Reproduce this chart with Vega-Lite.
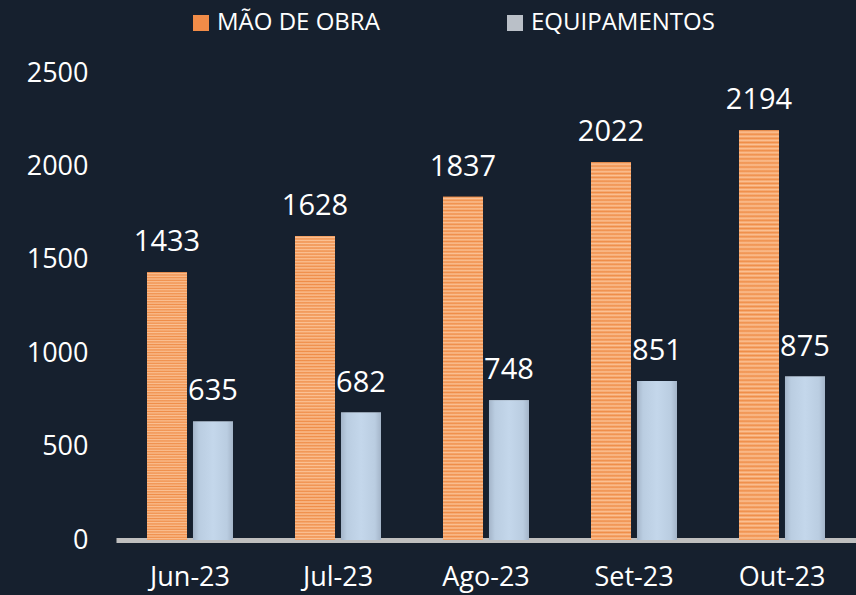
{
  "$schema": "https://vega.github.io/schema/vega-lite/v6.json",
  "width": 740,
  "height": 467,
  "padding": {"top": 11, "left": 0, "right": 0, "bottom": 0},
  "background": "#16202e",
  "config": {
    "view": {"stroke": null},
    "font": "Open Sans",
    "text": {"font": "Open Sans"}
  },
  "data": {
    "values": [
      {"mes": "Jun-23", "serie": "MÃO DE OBRA", "valor": 1433},
      {"mes": "Jun-23", "serie": "EQUIPAMENTOS", "valor": 635},
      {"mes": "Jul-23", "serie": "MÃO DE OBRA", "valor": 1628},
      {"mes": "Jul-23", "serie": "EQUIPAMENTOS", "valor": 682},
      {"mes": "Ago-23", "serie": "MÃO DE OBRA", "valor": 1837},
      {"mes": "Ago-23", "serie": "EQUIPAMENTOS", "valor": 748},
      {"mes": "Set-23", "serie": "MÃO DE OBRA", "valor": 2022},
      {"mes": "Set-23", "serie": "EQUIPAMENTOS", "valor": 851},
      {"mes": "Out-23", "serie": "MÃO DE OBRA", "valor": 2194},
      {"mes": "Out-23", "serie": "EQUIPAMENTOS", "valor": 875}
    ]
  },
  "encoding": {
    "x": {
      "field": "mes", "type": "nominal", "sort": null,
      "scale": {"paddingInner": 0.419, "paddingOuter": 0.2095},
      "axis": {
        "title": null, "labelAngle": 0, "labelColor": "#ffffff", "labelFontSize": 27,
        "labelFont": "Open Sans", "ticks": false, "labelPadding": 24,
        "domainColor": "#bfbfbf", "domainWidth": 5, "minExtent": 55, "maxExtent": 55
      }
    },
    "xOffset": {
      "field": "serie", "type": "nominal",
      "sort": ["MÃO DE OBRA", "EQUIPAMENTOS"],
      "scale": {"paddingInner": 0.13, "paddingOuter": 0}
    },
    "y": {
      "field": "valor", "type": "quantitative",
      "scale": {"domain": [0, 2500], "nice": false},
      "axis": {
        "title": null, "values": [0, 500, 1000, 1500, 2000, 2500], "format": "d",
        "labelColor": "#ffffff", "labelFontSize": 27, "labelFont": "Open Sans",
        "ticks": false, "domain": false, "grid": false, "labelPadding": 28,
        "minExtent": 116, "maxExtent": 116
      }
    }
  },
  "layer": [
    {
      "mark": {"type": "bar"},
      "encoding": {
        "color": {
          "field": "serie", "type": "nominal",
          "scale": {"domain": ["MÃO DE OBRA", "EQUIPAMENTOS"], "range": ["#f18c48", "#bac0c8"]},
          "legend": {
            "title": null, "orient": "none", "direction": "horizontal",
            "legendX": 73, "legendY": -62, "padding": 0,
            "symbolType": "square", "symbolSize": 256, "symbolStrokeWidth": 0,
            "labelColor": "#ffffff", "labelFontSize": 24, "labelFont": "Open Sans",
            "labelOffset": 4, "columnPadding": 123, "labelLimit": 0
          }
        }
      }
    },
    {
      "transform": [{"filter": "datum.serie === 'MÃO DE OBRA'"}],
      "mark": {
        "type": "bar",
        "fill": {
          "gradient": "linear", "x1": 0, "y1": 0, "x2": 0, "y2": 1,
          "stops": [
            {"offset": 0, "color": "#ef8d48"}, {"offset": 0.005, "color": "#fbc194"},
            {"offset": 0.01, "color": "#ef8d48"}, {"offset": 0.015, "color": "#fbc194"},
            {"offset": 0.02, "color": "#ef8d48"}, {"offset": 0.025, "color": "#fbc194"},
            {"offset": 0.03, "color": "#ef8d48"}, {"offset": 0.035, "color": "#fbc194"},
            {"offset": 0.04, "color": "#ef8d48"}, {"offset": 0.045, "color": "#fbc194"},
            {"offset": 0.05, "color": "#ef8d48"}, {"offset": 0.055, "color": "#fbc194"},
            {"offset": 0.06, "color": "#ef8d48"}, {"offset": 0.065, "color": "#fbc194"},
            {"offset": 0.07, "color": "#ef8d48"}, {"offset": 0.075, "color": "#fbc194"},
            {"offset": 0.08, "color": "#ef8d48"}, {"offset": 0.085, "color": "#fbc194"},
            {"offset": 0.09, "color": "#ef8d48"}, {"offset": 0.095, "color": "#fbc194"},
            {"offset": 0.1, "color": "#ef8d48"}, {"offset": 0.105, "color": "#fbc194"},
            {"offset": 0.11, "color": "#ef8d48"}, {"offset": 0.115, "color": "#fbc194"},
            {"offset": 0.12, "color": "#ef8d48"}, {"offset": 0.125, "color": "#fbc194"},
            {"offset": 0.13, "color": "#ef8d48"}, {"offset": 0.135, "color": "#fbc194"},
            {"offset": 0.14, "color": "#ef8d48"}, {"offset": 0.145, "color": "#fbc194"},
            {"offset": 0.15, "color": "#ef8d48"}, {"offset": 0.155, "color": "#fbc194"},
            {"offset": 0.16, "color": "#ef8d48"}, {"offset": 0.165, "color": "#fbc194"},
            {"offset": 0.17, "color": "#ef8d48"}, {"offset": 0.175, "color": "#fbc194"},
            {"offset": 0.18, "color": "#ef8d48"}, {"offset": 0.185, "color": "#fbc194"},
            {"offset": 0.19, "color": "#ef8d48"}, {"offset": 0.195, "color": "#fbc194"},
            {"offset": 0.2, "color": "#ef8d48"}, {"offset": 0.205, "color": "#fbc194"},
            {"offset": 0.21, "color": "#ef8d48"}, {"offset": 0.215, "color": "#fbc194"},
            {"offset": 0.22, "color": "#ef8d48"}, {"offset": 0.225, "color": "#fbc194"},
            {"offset": 0.23, "color": "#ef8d48"}, {"offset": 0.235, "color": "#fbc194"},
            {"offset": 0.24, "color": "#ef8d48"}, {"offset": 0.245, "color": "#fbc194"},
            {"offset": 0.25, "color": "#ef8d48"}, {"offset": 0.255, "color": "#fbc194"},
            {"offset": 0.26, "color": "#ef8d48"}, {"offset": 0.265, "color": "#fbc194"},
            {"offset": 0.27, "color": "#ef8d48"}, {"offset": 0.275, "color": "#fbc194"},
            {"offset": 0.28, "color": "#ef8d48"}, {"offset": 0.285, "color": "#fbc194"},
            {"offset": 0.29, "color": "#ef8d48"}, {"offset": 0.295, "color": "#fbc194"},
            {"offset": 0.3, "color": "#ef8d48"}, {"offset": 0.305, "color": "#fbc194"},
            {"offset": 0.31, "color": "#ef8d48"}, {"offset": 0.315, "color": "#fbc194"},
            {"offset": 0.32, "color": "#ef8d48"}, {"offset": 0.325, "color": "#fbc194"},
            {"offset": 0.33, "color": "#ef8d48"}, {"offset": 0.335, "color": "#fbc194"},
            {"offset": 0.34, "color": "#ef8d48"}, {"offset": 0.345, "color": "#fbc194"},
            {"offset": 0.35, "color": "#ef8d48"}, {"offset": 0.355, "color": "#fbc194"},
            {"offset": 0.36, "color": "#ef8d48"}, {"offset": 0.365, "color": "#fbc194"},
            {"offset": 0.37, "color": "#ef8d48"}, {"offset": 0.375, "color": "#fbc194"},
            {"offset": 0.38, "color": "#ef8d48"}, {"offset": 0.385, "color": "#fbc194"},
            {"offset": 0.39, "color": "#ef8d48"}, {"offset": 0.395, "color": "#fbc194"},
            {"offset": 0.4, "color": "#ef8d48"}, {"offset": 0.405, "color": "#fbc194"},
            {"offset": 0.41, "color": "#ef8d48"}, {"offset": 0.415, "color": "#fbc194"},
            {"offset": 0.42, "color": "#ef8d48"}, {"offset": 0.425, "color": "#fbc194"},
            {"offset": 0.43, "color": "#ef8d48"}, {"offset": 0.435, "color": "#fbc194"},
            {"offset": 0.44, "color": "#ef8d48"}, {"offset": 0.445, "color": "#fbc194"},
            {"offset": 0.45, "color": "#ef8d48"}, {"offset": 0.455, "color": "#fbc194"},
            {"offset": 0.46, "color": "#ef8d48"}, {"offset": 0.465, "color": "#fbc194"},
            {"offset": 0.47, "color": "#ef8d48"}, {"offset": 0.475, "color": "#fbc194"},
            {"offset": 0.48, "color": "#ef8d48"}, {"offset": 0.485, "color": "#fbc194"},
            {"offset": 0.49, "color": "#ef8d48"}, {"offset": 0.495, "color": "#fbc194"},
            {"offset": 0.5, "color": "#ef8d48"}, {"offset": 0.505, "color": "#fbc194"},
            {"offset": 0.51, "color": "#ef8d48"}, {"offset": 0.515, "color": "#fbc194"},
            {"offset": 0.52, "color": "#ef8d48"}, {"offset": 0.525, "color": "#fbc194"},
            {"offset": 0.53, "color": "#ef8d48"}, {"offset": 0.535, "color": "#fbc194"},
            {"offset": 0.54, "color": "#ef8d48"}, {"offset": 0.545, "color": "#fbc194"},
            {"offset": 0.55, "color": "#ef8d48"}, {"offset": 0.555, "color": "#fbc194"},
            {"offset": 0.56, "color": "#ef8d48"}, {"offset": 0.565, "color": "#fbc194"},
            {"offset": 0.57, "color": "#ef8d48"}, {"offset": 0.575, "color": "#fbc194"},
            {"offset": 0.58, "color": "#ef8d48"}, {"offset": 0.585, "color": "#fbc194"},
            {"offset": 0.59, "color": "#ef8d48"}, {"offset": 0.595, "color": "#fbc194"},
            {"offset": 0.6, "color": "#ef8d48"}, {"offset": 0.605, "color": "#fbc194"},
            {"offset": 0.61, "color": "#ef8d48"}, {"offset": 0.615, "color": "#fbc194"},
            {"offset": 0.62, "color": "#ef8d48"}, {"offset": 0.625, "color": "#fbc194"},
            {"offset": 0.63, "color": "#ef8d48"}, {"offset": 0.635, "color": "#fbc194"},
            {"offset": 0.64, "color": "#ef8d48"}, {"offset": 0.645, "color": "#fbc194"},
            {"offset": 0.65, "color": "#ef8d48"}, {"offset": 0.655, "color": "#fbc194"},
            {"offset": 0.66, "color": "#ef8d48"}, {"offset": 0.665, "color": "#fbc194"},
            {"offset": 0.67, "color": "#ef8d48"}, {"offset": 0.675, "color": "#fbc194"},
            {"offset": 0.68, "color": "#ef8d48"}, {"offset": 0.685, "color": "#fbc194"},
            {"offset": 0.69, "color": "#ef8d48"}, {"offset": 0.695, "color": "#fbc194"},
            {"offset": 0.7, "color": "#ef8d48"}, {"offset": 0.705, "color": "#fbc194"},
            {"offset": 0.71, "color": "#ef8d48"}, {"offset": 0.715, "color": "#fbc194"},
            {"offset": 0.72, "color": "#ef8d48"}, {"offset": 0.725, "color": "#fbc194"},
            {"offset": 0.73, "color": "#ef8d48"}, {"offset": 0.735, "color": "#fbc194"},
            {"offset": 0.74, "color": "#ef8d48"}, {"offset": 0.745, "color": "#fbc194"},
            {"offset": 0.75, "color": "#ef8d48"}, {"offset": 0.755, "color": "#fbc194"},
            {"offset": 0.76, "color": "#ef8d48"}, {"offset": 0.765, "color": "#fbc194"},
            {"offset": 0.77, "color": "#ef8d48"}, {"offset": 0.775, "color": "#fbc194"},
            {"offset": 0.78, "color": "#ef8d48"}, {"offset": 0.785, "color": "#fbc194"},
            {"offset": 0.79, "color": "#ef8d48"}, {"offset": 0.795, "color": "#fbc194"},
            {"offset": 0.8, "color": "#ef8d48"}, {"offset": 0.805, "color": "#fbc194"},
            {"offset": 0.81, "color": "#ef8d48"}, {"offset": 0.815, "color": "#fbc194"},
            {"offset": 0.82, "color": "#ef8d48"}, {"offset": 0.825, "color": "#fbc194"},
            {"offset": 0.83, "color": "#ef8d48"}, {"offset": 0.835, "color": "#fbc194"},
            {"offset": 0.84, "color": "#ef8d48"}, {"offset": 0.845, "color": "#fbc194"},
            {"offset": 0.85, "color": "#ef8d48"}, {"offset": 0.855, "color": "#fbc194"},
            {"offset": 0.86, "color": "#ef8d48"}, {"offset": 0.865, "color": "#fbc194"},
            {"offset": 0.87, "color": "#ef8d48"}, {"offset": 0.875, "color": "#fbc194"},
            {"offset": 0.88, "color": "#ef8d48"}, {"offset": 0.885, "color": "#fbc194"},
            {"offset": 0.89, "color": "#ef8d48"}, {"offset": 0.895, "color": "#fbc194"},
            {"offset": 0.9, "color": "#ef8d48"}, {"offset": 0.905, "color": "#fbc194"},
            {"offset": 0.91, "color": "#ef8d48"}, {"offset": 0.915, "color": "#fbc194"},
            {"offset": 0.92, "color": "#ef8d48"}, {"offset": 0.925, "color": "#fbc194"},
            {"offset": 0.93, "color": "#ef8d48"}, {"offset": 0.935, "color": "#fbc194"},
            {"offset": 0.94, "color": "#ef8d48"}, {"offset": 0.945, "color": "#fbc194"},
            {"offset": 0.95, "color": "#ef8d48"}, {"offset": 0.955, "color": "#fbc194"},
            {"offset": 0.96, "color": "#ef8d48"}, {"offset": 0.965, "color": "#fbc194"},
            {"offset": 0.97, "color": "#ef8d48"}, {"offset": 0.975, "color": "#fbc194"},
            {"offset": 0.98, "color": "#ef8d48"}, {"offset": 0.985, "color": "#fbc194"},
            {"offset": 0.99, "color": "#ef8d48"}, {"offset": 0.995, "color": "#fbc194"},
            {"offset": 1, "color": "#ef8d48"}
          ]
        }
      }
    },
    {
      "transform": [{"filter": "datum.serie === 'EQUIPAMENTOS'"}],
      "mark": {
        "type": "bar",
        "fill": {
          "gradient": "linear", "x1": 0, "y1": 0, "x2": 1, "y2": 0,
          "stops": [
            {"offset": 0, "color": "#a4b5c9"},
            {"offset": 0.15, "color": "#bacde1"},
            {"offset": 0.5, "color": "#c4d7eb"},
            {"offset": 0.85, "color": "#bacde1"},
            {"offset": 1, "color": "#a4b5c9"}
          ]
        }
      }
    },
    {
      "mark": {"type": "text", "baseline": "alphabetic", "dy": -21, "color": "#ffffff", "fontSize": 29, "font": "Open Sans"},
      "encoding": {
        "text": {"field": "valor", "type": "quantitative"}
      }
    }
  ]
}
